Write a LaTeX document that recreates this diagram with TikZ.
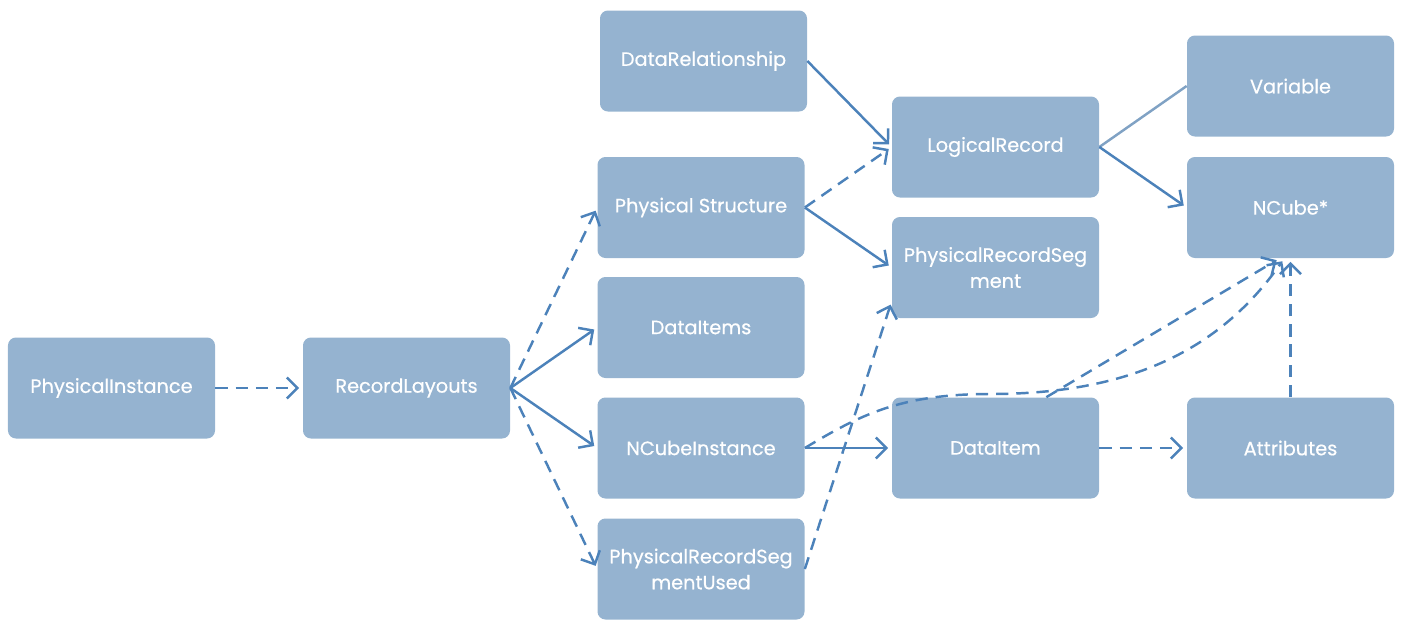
\documentclass[tikz,border=0pt]{standalone}
\usepackage{fontspec}
\setmainfont{Poppins}[FakeBold=0.5]
\usetikzlibrary{arrows.meta}
\definecolor{boxblue}{RGB}{149,179,208}
\definecolor{linkblue}{RGB}{76,130,186}
\definecolor{paleblue}{RGB}{128,162,196}

\begin{document}
\begin{tikzpicture}[
    font=\fontsize{11}{14.8}\selectfont,
    box/.style={fill=boxblue, rounded corners=4.5pt, minimum width=4.14cm, minimum height=2.02cm, inner sep=0pt, text=white, align=center},
    link/.style={draw=linkblue, line width=1.4pt, -{Straight Barb[length=6pt,width=12pt]}, shorten >=2pt},
    dashlink/.style={link, dash pattern=on 7pt off 4.5pt}
]
    \useasboundingbox (0,0) rectangle (28.02,-12.4);

    % Draw the instance and the layouts
    \node[box] (instance) at (2.23,-7.76) {PhysicalInstance};
    \node[box] (layouts) at (8.13,-7.76) {RecordLayouts};

    % Draw the middle column
    \node[box] (datarel) at (14.07,-1.22) {DataRelationship};
    \node[box] (physstruct) at (14.02,-4.15) {Physical Structure};
    \node[box] (dataitems) at (14.02,-6.55) {DataItems};
    \node[box] (ncubeinst) at (14.02,-8.96) {NCubeInstance};
    \node[box] (segused) at (14.02,-11.38) {PhysicalRecordSeg\\mentUsed};

    % Draw the records
    \node[box] (logrec) at (19.91,-2.94) {LogicalRecord};
    \node[box] (segment) at (19.91,-5.35) {PhysicalRecordSeg\\ment};
    \node[box] (dataitem) at (19.91,-8.96) {DataItem};

    % Draw the right column
    \node[box] (variable) at (25.81,-1.72) {Variable};
    \node[box] (ncube) at (25.81,-4.15) {NCube*};
    \node[box] (attributes) at (25.81,-8.96) {Attributes};

    % Draw connections
    \draw[dashlink] (instance) -- (layouts);
    \draw[dashlink] (layouts.east) -- (physstruct.west);
    \draw[link] (layouts.east) -- (dataitems.west);
    \draw[link] (layouts.east) -- (ncubeinst.west);
    \draw[dashlink] (layouts.east) -- (segused.west);
    \draw[link] (datarel.east) -- (logrec.west);
    \draw[dashlink] (physstruct.east) -- (logrec.west);
    \draw[link] (physstruct.east) -- (segment.west);
    \draw[dashlink] (segused.east) -- (segment.198);
    \draw[link] (ncubeinst.east) -- (dataitem.west);
    \draw[dashlink] (dataitem.east) -- (attributes.west);
    \draw[draw=paleblue, line width=1.4pt] (logrec.east) -- (variable.west);
    \draw[link] (logrec.east) -- (ncube.west);
    \draw[dashlink] (attributes.north) -- (ncube.south);
    \draw[dashlink] (dataitem.45) -- (ncube.258);
    \draw[dashlink] (ncubeinst.east) .. controls (17.2,-8.3) and (18.0,-7.88) .. (19.8,-7.88)
        .. controls (22.6,-7.88) and (24.4,-7.0) .. (ncube.263);

\end{tikzpicture}
\end{document}
